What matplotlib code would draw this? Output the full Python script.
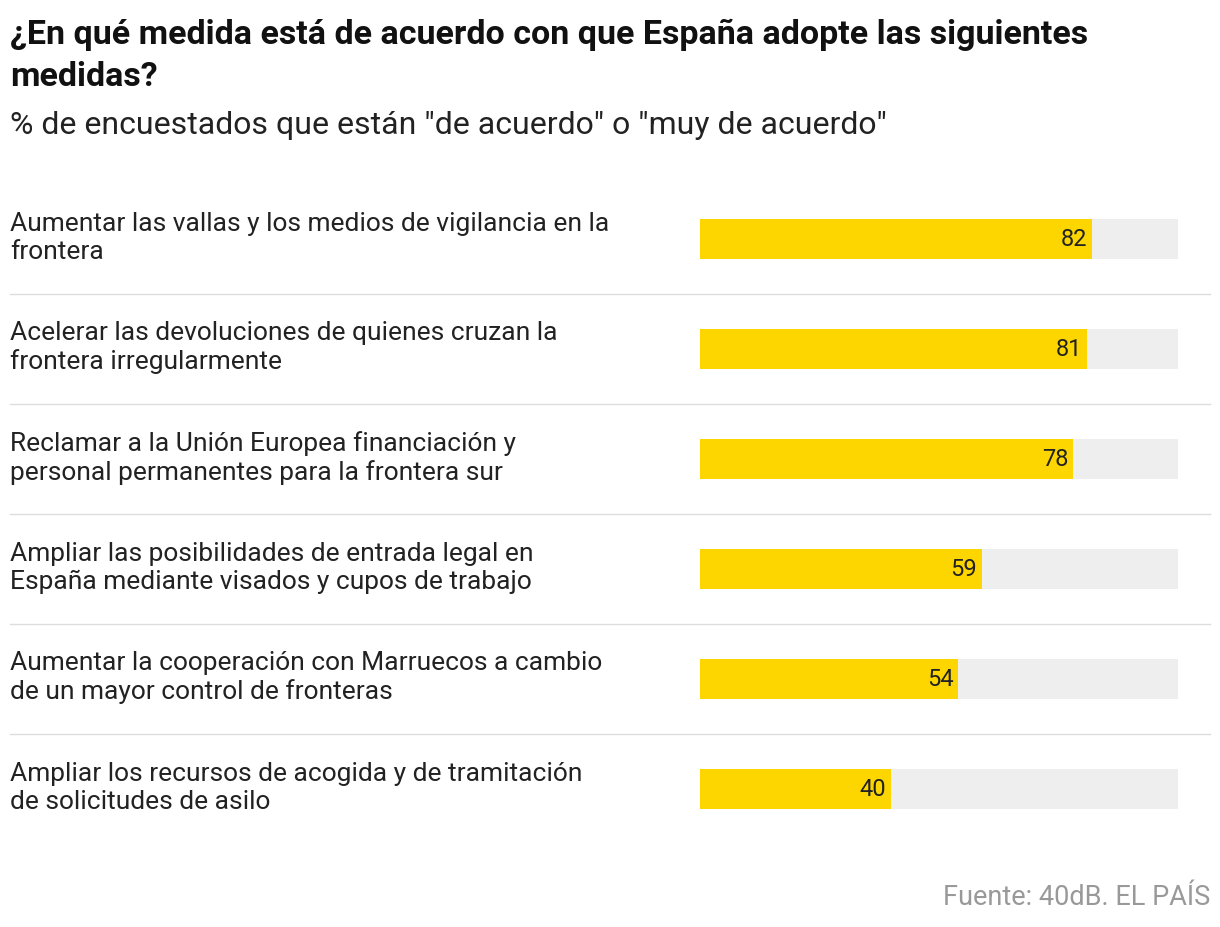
import matplotlib
matplotlib.use("Agg")
import matplotlib.pyplot as plt
import matplotlib.transforms as mt

plt.rcParams['font.family'] = ['Roboto', 'DejaVu Sans']

categories = [
    "Aumentar las vallas y los medios de vigilancia en la\nfrontera",
    "Acelerar las devoluciones de quienes cruzan la\nfrontera irregularmente",
    "Reclamar a la Unión Europea financiación y\npersonal permanentes para la frontera sur",
    "Ampliar las posibilidades de entrada legal en\nEspaña mediante visados y cupos de trabajo",
    "Aumentar la cooperación con Marruecos a cambio\nde un mayor control de fronteras",
    "Ampliar los recursos de acogida y de tramitación\nde solicitudes de asilo",
]
values = [82, 81, 78, 59, 54, 40]

W, H = 1220, 928
fig = plt.figure(figsize=(W/100, H/100), dpi=100)
fig.patch.set_facecolor('white')

ax = fig.add_axes([700/W, 1-845/H, 478/W, 660/H])
ax.set_xlim(0, 100)
ax.set_ylim(len(values)-0.5, -0.5)
ax.axis('off')

ys = list(range(len(values)))
ax.barh(ys, [100]*len(values), height=40/110, color='#eeeeee', zorder=1)
ax.barh(ys, values, height=40/110, color='#fdd600', zorder=2)
for y, v in zip(ys, values):
    ax.text(v-1, y, f"{v}", ha='right', va='center', fontsize=17, color='#222222', zorder=3)

blend = mt.blended_transform_factory(fig.transFigure, ax.transData)
for y, c in zip(ys, categories):
    ax.text(10/W, y-0.02, c, transform=blend, ha='left', va='center', fontsize=19,
            color='#222222', linespacing=1.2)
for i in range(len(values)-1):
    ax.plot([10/W, 1210/W], [i+0.5, i+0.5], transform=blend, color='#dddddd',
            lw=1, clip_on=False)

fig.text(10/W, 1-35/H, "¿En qué medida está de acuerdo con que España adopte las siguientes",
         fontsize=24.5, fontweight='bold', va='center', color='#111111')
fig.text(10/W, 1-77/H, "medidas?", fontsize=24.5, fontweight='bold', va='center', color='#111111')
fig.text(10/W, 1-125/H, '% de encuestados que están "de acuerdo" o "muy de acuerdo"',
         fontsize=23, va='center', color='#222222')
fig.text(1210/W, 1-898/H, "Fuente: 40dB. EL PAÍS", fontsize=19.5, ha='right', va='center',
         color='#999999')

fig.savefig("out.png", dpi=100)
